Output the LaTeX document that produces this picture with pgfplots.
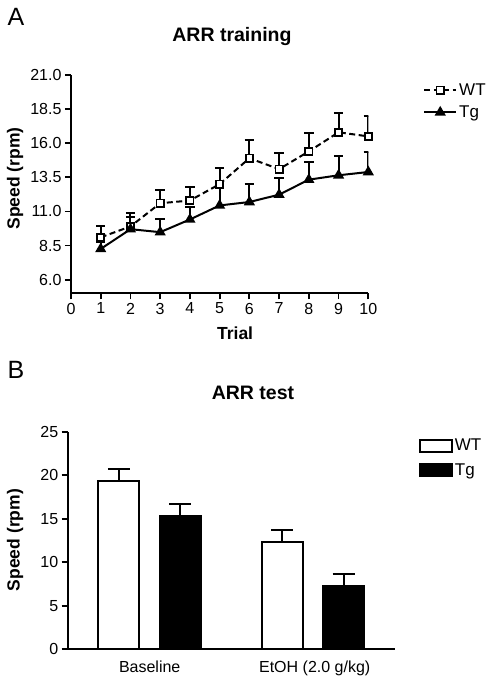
\documentclass[border=0pt]{standalone}
\usepackage{fontspec}
\setmainfont{Liberation Sans}
\usepackage{pgfplots}
\pgfplotsset{compat=1.18}
\begin{document}
\begin{tikzpicture}
\useasboundingbox (0,0) rectangle (494pt,683pt);
\pgfplotsset{
  every tick label/.append style={font=\fontsize{16}{16}\selectfont},
  /pgf/number format/assume math mode=true,
  every axis/.append style={
    axis x line*=bottom, axis y line*=left,
    axis line style={line width=2pt, -},
    tick style={line width=1.8pt, black},
    tick align=outside, major tick length=6pt,
    label style={font=\bfseries\fontsize{17.5}{17.5}\selectfont},
    title style={font=\bfseries\fontsize{19.5}{19.5}\selectfont, anchor=center},
    legend style={draw=none, fill=none, font=\fontsize{17}{18}\selectfont, anchor=north west, row sep=5pt, cells={anchor=west}},
  },
}
\node[font=\fontsize{25}{25}\selectfont] at (16pt,666pt) {A};
\node[font=\fontsize{25}{25}\selectfont] at (16pt,313pt) {B};
% Panel A
\begin{axis}[
  at={(71pt,389.7pt)}, anchor=south west,
  scale only axis, width=297.3pt, height=218.3pt,
  xmin=0, xmax=10, ymin=5, ymax=21,
  xtick={0,1,2,3,4,5,6,7,8,9,10},
  ytick={6,8.5,11,13.5,16,18.5,21},
  yticklabel style={/pgf/number format/.cd, fixed, fixed zerofill, precision=1},
  title={ARR training},
  title style={at={(axis description cs:0.5415,1.147)}},
  xlabel={Trial},
  xlabel style={at={(axis description cs:0.552,-0.182)}, anchor=center},
  ylabel={Speed (rpm)},
  ylabel style={at={(axis description cs:-0.188,0.526)}, anchor=center},
  legend style={at={(axis description cs:1.174,0.98)}},
  legend image code/.code={\draw[mark repeat=2,mark phase=2,#1] plot coordinates {(0pt,0pt) (16pt,0pt) (32pt,0pt)};},
  error bars/y dir=plus, error bars/y explicit,
  error bars/error mark options={rotate=90, black, line width=2pt, mark size=4.7pt, solid},
  error bars/error bar style={black, line width=2pt, solid},
]
\addplot[black, line width=2pt, dash pattern=on 6pt off 3.5pt, mark=square*, mark options={solid, fill=white, line width=1.7pt}, mark size=3.6pt]
coordinates {
(1,9.1) +- (0,0.85)
(2,9.9) +- (0,0.95)
(3,11.6) +- (0,1.0)
(4,11.8) +- (0,1.0)
(5,13.0) +- (0,1.2)
(6,14.9) +- (0,1.35)
(7,14.1) +- (0,1.2)
(8,15.4) +- (0,1.35)
(9,16.8) +- (0,1.4)
(10,16.5) +- (0,1.5)
};
\addlegendentry{WT}
\addplot[black, line width=2pt, mark=triangle*, mark options={solid}, mark size=4.5pt]
coordinates {
(1,8.25) +- (0,0.5)
(2,9.7) +- (0,0.9)
(3,9.48) +- (0,0.93)
(4,10.41) +- (0,0.9)
(5,11.44) +- (0,1.35)
(6,11.69) +- (0,1.35)
(7,12.23) +- (0,1.2)
(8,13.33) +- (0,1.3)
(9,13.65) +- (0,1.4)
(10,13.89) +- (0,1.5)
};
\addlegendentry{Tg}
\end{axis}
% Panel B
\begin{axis}[
  at={(67.7pt,33.7pt)}, anchor=south west,
  scale only axis, width=327.3pt, height=217.6pt,
  xmin=0, xmax=327.3, ymin=0, ymax=25,
  xtick={82,247}, xticklabels={Baseline, EtOH (2.0 g/kg)},
  x tick style={draw=none},
  ytick={0,5,10,15,20,25},
  xticklabel style={yshift=-2pt},
  title={ARR test},
  title style={at={(axis description cs:0.566,1.150)}},
  ylabel={Speed (rpm)},
  ylabel style={at={(axis description cs:-0.161,0.502)}, anchor=center},
  legend style={at={(axis description cs:1.064,0.985)}, row sep=7pt},
  legend image code/.code={\draw[#1, line width=1.8pt] (0pt,-6pt) rectangle (32pt,6pt);},
  error bars/y dir=plus, error bars/y explicit,
  error bars/error mark options={rotate=90, black, line width=2pt, mark size=11pt},
  error bars/error bar style={black, line width=2pt},
]
\addplot[ybar, bar width=41, bar shift=0pt, draw=black, fill=white, line width=2pt]
coordinates {(51.1,19.3) +- (0,1.4) (214.5,12.3) +- (0,1.4)};
\addlegendentry{WT}
\addplot[ybar, bar width=41, bar shift=0pt, draw=black, fill=black, line width=2pt]
coordinates {(112.3,15.35) +- (0,1.3) (275.8,7.3) +- (0,1.4)};
\addlegendentry{Tg}
\end{axis}
\end{tikzpicture}
\end{document}
